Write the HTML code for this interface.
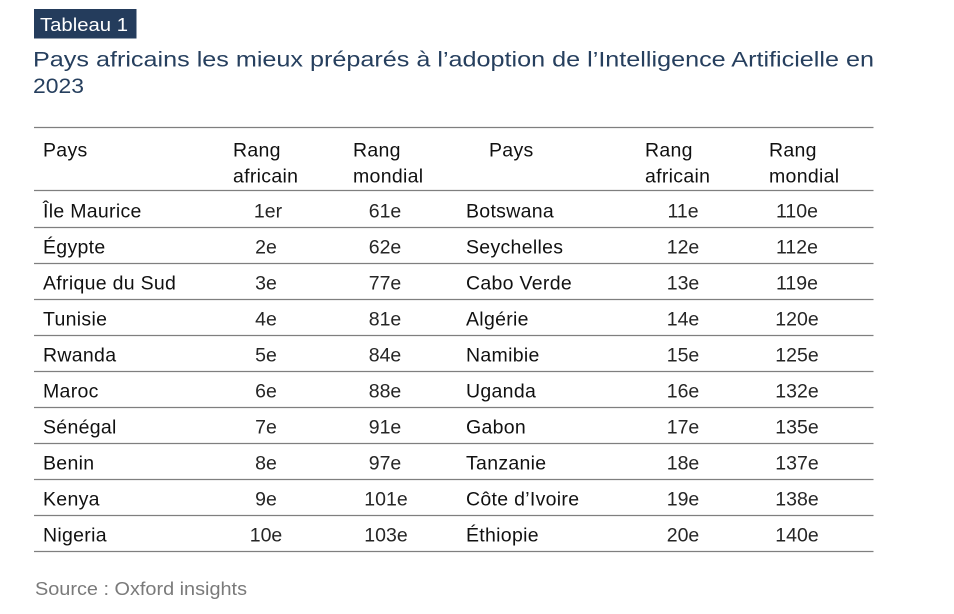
<!DOCTYPE html>
<html>
<head>
<meta charset="utf-8">
<style>
  html, body { margin:0; padding:0; background:#fff; }
  svg { display:block; }
  .t { font-family:"Liberation Sans", sans-serif; }
  .name { font-size:19.5px; letter-spacing:0.3px; fill:#111111; }
  .num { font-size:19.5px; fill:#262626; }
  .hdr { font-size:19.5px; letter-spacing:0.3px; fill:#111111; }
</style>
</head>
<body>
<svg width="954" height="614" viewBox="0 0 954 614" xmlns="http://www.w3.org/2000/svg">
  <rect x="34" y="9" width="102.5" height="29.5" fill="#243c5c"/>
  <text class="t" x="40" y="31" font-size="18" fill="#ffffff" textLength="88" lengthAdjust="spacingAndGlyphs">Tableau 1</text>

  <text class="t" x="33" y="66.5" font-size="21.5" fill="#263f5e" textLength="841" lengthAdjust="spacingAndGlyphs">Pays africains les mieux préparés à l’adoption de l’Intelligence Artificielle en</text>
  <text class="t" x="33" y="93" font-size="21.5" fill="#263f5e" textLength="51" lengthAdjust="spacingAndGlyphs">2023</text>

  <g stroke="#7f7f7f" stroke-width="1.3">
    <line x1="34" y1="127.5" x2="873.5" y2="127.5"/>
    <line x1="34" y1="190.5" x2="873.5" y2="190.5"/>
    <line x1="34" y1="227.5" x2="873.5" y2="227.5"/>
    <line x1="34" y1="263.5" x2="873.5" y2="263.5"/>
    <line x1="34" y1="299.5" x2="873.5" y2="299.5"/>
    <line x1="34" y1="335.5" x2="873.5" y2="335.5"/>
    <line x1="34" y1="371.5" x2="873.5" y2="371.5"/>
    <line x1="34" y1="407.5" x2="873.5" y2="407.5"/>
    <line x1="34" y1="443.5" x2="873.5" y2="443.5"/>
    <line x1="34" y1="479.5" x2="873.5" y2="479.5"/>
    <line x1="34" y1="515.5" x2="873.5" y2="515.5"/>
    <line x1="34" y1="551.5" x2="873.5" y2="551.5"/>
  </g>

  <g class="t hdr">
    <text x="43" y="156.5">Pays</text>
    <text x="233" y="156.5">Rang</text>
    <text x="233" y="182.5">africain</text>
    <text x="353" y="156.5">Rang</text>
    <text x="353" y="182.5">mondial</text>
    <text x="489" y="156.5">Pays</text>
    <text x="645" y="156.5">Rang</text>
    <text x="645" y="182.5">africain</text>
    <text x="769" y="156.5">Rang</text>
    <text x="769" y="182.5">mondial</text>
  </g>

  <g class="t name">
    <text x="43" y="217.5">Île Maurice</text>
    <text x="43" y="253.5">Égypte</text>
    <text x="43" y="289.5">Afrique du Sud</text>
    <text x="43" y="325.5">Tunisie</text>
    <text x="43" y="361.5">Rwanda</text>
    <text x="43" y="397.5">Maroc</text>
    <text x="43" y="433.5">Sénégal</text>
    <text x="43" y="469.5">Benin</text>
    <text x="43" y="505.5">Kenya</text>
    <text x="43" y="541.5">Nigeria</text>

    <text x="466" y="217.5">Botswana</text>
    <text x="466" y="253.5">Seychelles</text>
    <text x="466" y="289.5">Cabo Verde</text>
    <text x="466" y="325.5">Algérie</text>
    <text x="466" y="361.5">Namibie</text>
    <text x="466" y="397.5">Uganda</text>
    <text x="466" y="433.5">Gabon</text>
    <text x="466" y="469.5">Tanzanie</text>
    <text x="466" y="505.5">Côte d’Ivoire</text>
    <text x="466" y="541.5">Éthiopie</text>
  </g>

  <g class="t num" text-anchor="middle">
    <text x="268" y="217.5">1er</text>
    <text x="266" y="253.5">2e</text>
    <text x="266" y="289.5">3e</text>
    <text x="266" y="325.5">4e</text>
    <text x="266" y="361.5">5e</text>
    <text x="266" y="397.5">6e</text>
    <text x="266" y="433.5">7e</text>
    <text x="266" y="469.5">8e</text>
    <text x="266" y="505.5">9e</text>
    <text x="266" y="541.5">10e</text>

    <text x="385" y="217.5">61e</text>
    <text x="385" y="253.5">62e</text>
    <text x="385" y="289.5">77e</text>
    <text x="385" y="325.5">81e</text>
    <text x="385" y="361.5">84e</text>
    <text x="385" y="397.5">88e</text>
    <text x="385" y="433.5">91e</text>
    <text x="385" y="469.5">97e</text>
    <text x="386" y="505.5">101e</text>
    <text x="386" y="541.5">103e</text>

    <text x="683" y="217.5">11e</text>
    <text x="683" y="253.5">12e</text>
    <text x="683" y="289.5">13e</text>
    <text x="683" y="325.5">14e</text>
    <text x="683" y="361.5">15e</text>
    <text x="683" y="397.5">16e</text>
    <text x="683" y="433.5">17e</text>
    <text x="683" y="469.5">18e</text>
    <text x="683" y="505.5">19e</text>
    <text x="683" y="541.5">20e</text>

    <text x="797" y="217.5">110e</text>
    <text x="797" y="253.5">112e</text>
    <text x="797" y="289.5">119e</text>
    <text x="797" y="325.5">120e</text>
    <text x="797" y="361.5">125e</text>
    <text x="797" y="397.5">132e</text>
    <text x="797" y="433.5">135e</text>
    <text x="797" y="469.5">137e</text>
    <text x="797" y="505.5">138e</text>
    <text x="797" y="541.5">140e</text>
  </g>

  <text class="t" x="35" y="595" font-size="18.5" fill="#7a7a7a" textLength="212" lengthAdjust="spacingAndGlyphs">Source : Oxford insights</text>
</svg>
</body>
</html>
